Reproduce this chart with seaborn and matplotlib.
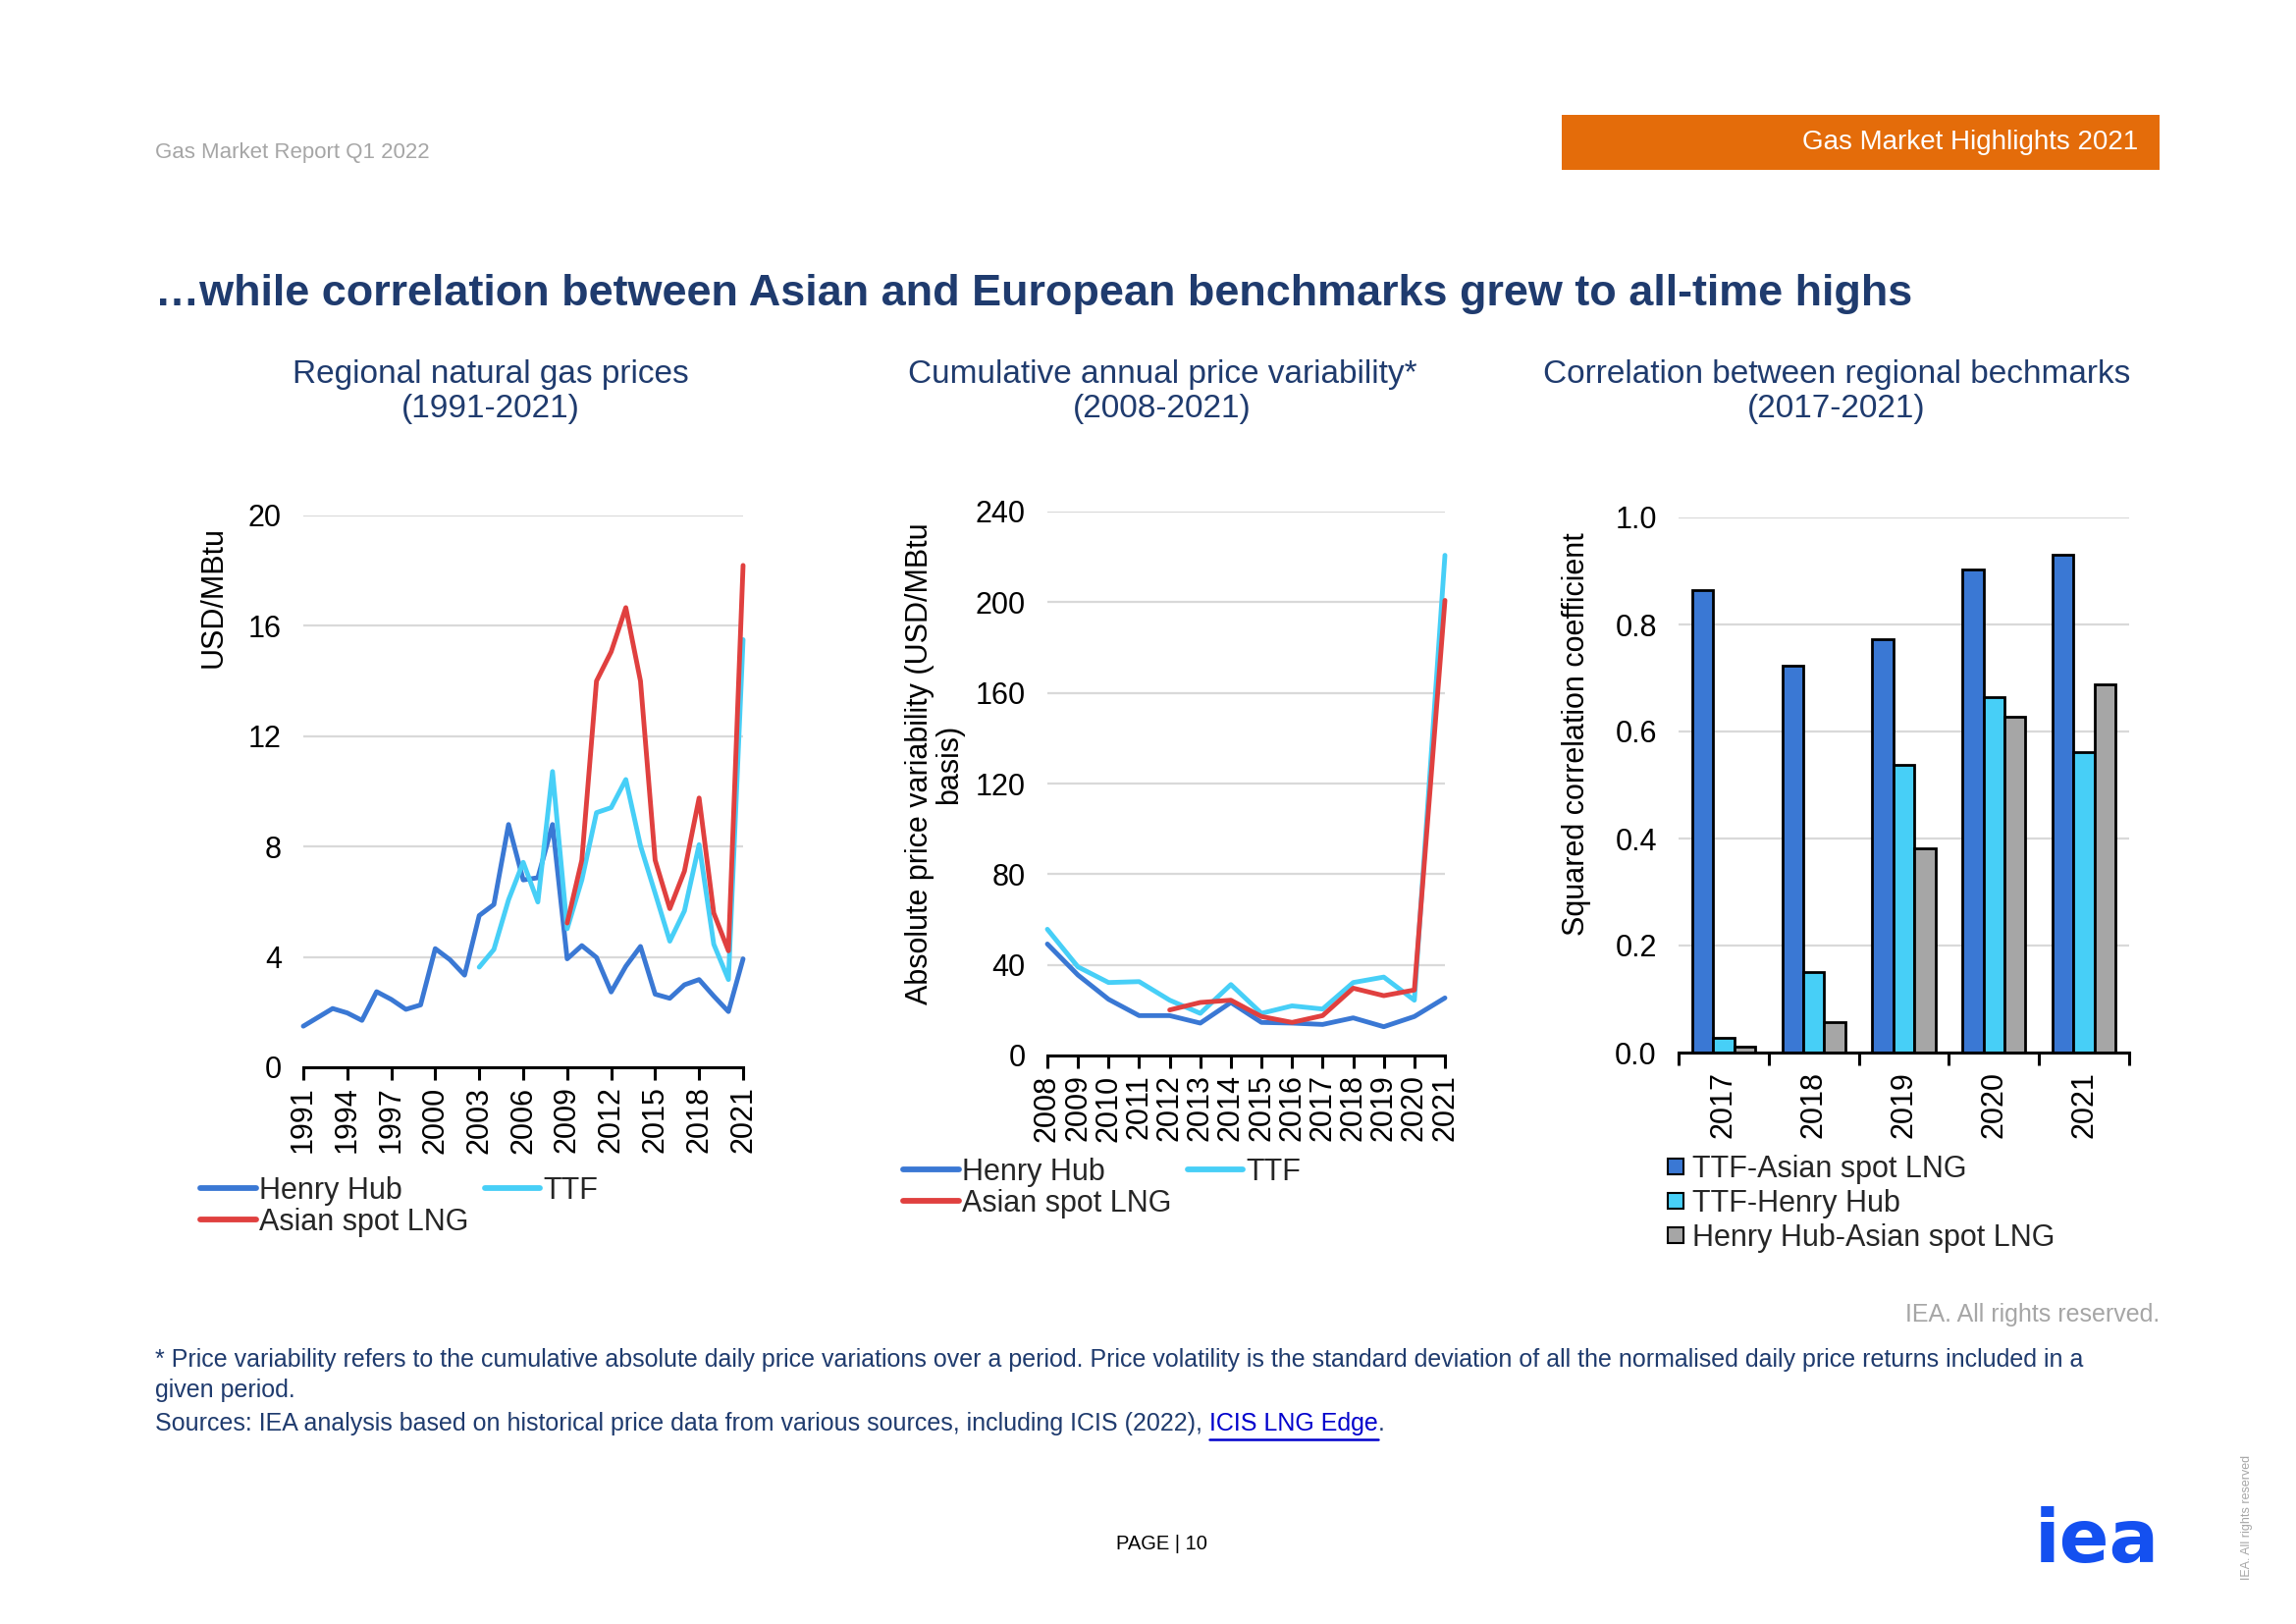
import numpy as np
import pandas as pd
import matplotlib
matplotlib.use("Agg")
import matplotlib.pyplot as plt
import seaborn as sns
from matplotlib.lines import Line2D
from matplotlib.patches import Rectangle

nan = np.nan

# ---------------- data ----------------
years1 = list(range(1991, 2022))
henry_hub_price = [1.49, 1.81, 2.13, 1.97, 1.70, 2.74, 2.46, 2.10, 2.26, 4.30,
                   3.90, 3.34, 5.50, 5.90, 8.80, 6.79, 6.87, 8.80, 3.93, 4.41,
                   3.98, 2.73, 3.66, 4.38, 2.65, 2.50, 2.99, 3.18, 2.58, 2.02, 3.93]
ttf_price = [nan] * 12 + [3.63, 4.27, 6.07, 7.43, 5.99, 10.72, 5.02, 6.79, 9.23,
                          9.41, 10.43, 8.03, 6.31, 4.57, 5.67, 8.07, 4.46, 3.18, 15.5]
lng_price = [nan] * 18 + [5.23, 7.51, 14.0, 15.06, 16.66, 14.0, 7.51, 5.75, 7.11,
                          9.76, 5.59, 4.22, 18.19]

years2 = list(range(2008, 2022))
henry_hub_var = [49.2, 35.5, 24.8, 17.6, 17.6, 14.3, 23.4, 14.6, 14.3, 13.7, 16.6, 12.7, 17.2, 25.4]
ttf_var = [55.7, 39.1, 32.2, 32.6, 24.4, 18.6, 31.3, 18.6, 21.9, 20.5, 32.2, 34.6, 24.4, 220.7]
lng_var = [nan] * 4 + [20.1, 23.4, 24.4, 17.2, 14.6, 17.6, 29.7, 26.4, 28.9, 200.8]

years3 = ["2017", "2018", "2019", "2020", "2021"]
corr_ttf_lng = [0.865, 0.723, 0.773, 0.902, 0.931]
corr_ttf_hh = [0.027, 0.150, 0.537, 0.665, 0.561]
corr_hh_lng = [0.011, 0.057, 0.381, 0.628, 0.688]

series_names = ["Henry Hub", "TTF", "Asian spot LNG"]
bar_names = ["TTF-Asian spot LNG", "TTF-Henry Hub", "Henry Hub-Asian spot LNG"]

# ---------------- style ----------------
C_HH = "#3A78D4"
C_TTF = "#47CFF7"
C_LNG = "#E0403F"
C_GRAY = "#A6A6A6"
NAVY = "#1F3B6E"
GRID = "#D9D9D9"

sns.set_theme(style="white")
plt.rcParams["font.family"] = ["Liberation Sans", "DejaVu Sans"]

W, H = 2339, 1654
fig = plt.figure(figsize=(W / 100, H / 100), dpi=100)


def rect(x0, y0, x1, y1):
    return [x0 / W, 1 - y1 / H, (x1 - x0) / W, (y1 - y0) / H]


def fx(x):
    return x / W


def fy(y):
    return 1 - y / H


def style_axis(ax):
    ax.grid(axis="y", color=GRID, linewidth=1.6)
    ax.grid(axis="x", visible=False)
    ax.set_axisbelow(True)
    for s in ["top", "right", "left"]:
        ax.spines[s].set_visible(False)
    ax.spines["bottom"].set_color("black")
    ax.spines["bottom"].set_linewidth(2.2)
    ax.spines["bottom"].set_zorder(5)
    ax.tick_params(axis="y", length=0, pad=16, labelsize=22, labelcolor="black")
    ax.tick_params(axis="x", which="both", direction="out", length=9, width=2.2,
                   color="black", labelsize=22, labelcolor="black", pad=5,
                   labelrotation=90, bottom=True)
    ax.set_xlabel("")


palette = {"Henry Hub": C_HH, "TTF": C_TTF, "Asian spot LNG": C_LNG}

# ---------------- chart 1 ----------------
df1 = pd.DataFrame({"year": years1 * 3,
                    "series": np.repeat(series_names, len(years1)),
                    "value": henry_hub_price + ttf_price + lng_price}).dropna()
ax1 = fig.add_axes(rect(309, 525, 757, 1087))
sns.lineplot(data=df1, x="year", y="value", hue="series", hue_order=series_names,
             palette=palette, linewidth=3.5, estimator=None, legend=False, ax=ax1)
for ln in ax1.lines:
    ln.set_clip_on(False)
    ln.set_solid_joinstyle("round")
ax1.set_xlim(1991, 2021)
ax1.set_ylim(0, 20)
ax1.set_yticks(range(0, 21, 4))
ax1.set_xticks(range(1991, 2022, 3))
style_axis(ax1)
ax1.set_ylabel("USD/MBtu", fontsize=22, va="center", color="black")
ax1.yaxis.set_label_coords(-0.203, 0.852)

# ---------------- chart 2 ----------------
df2 = pd.DataFrame({"year": years2 * 3,
                    "series": np.repeat(series_names, len(years2)),
                    "value": henry_hub_var + ttf_var + lng_var}).dropna()
ax2 = fig.add_axes(rect(1067, 521, 1472, 1075))
sns.lineplot(data=df2, x="year", y="value", hue="series", hue_order=series_names,
             palette=palette, linewidth=3.5, estimator=None, legend=False, ax=ax2)
for ln in ax2.lines:
    ln.set_clip_on(False)
    ln.set_solid_joinstyle("round")
ax2.set_xlim(2008, 2021)
ax2.set_ylim(0, 240)
ax2.set_yticks(range(0, 241, 40))
ax2.set_xticks(years2)
style_axis(ax2)
ax2.set_ylabel("Absolute price variability (USD/MBtu\nbasis)", fontsize=22,
               va="center", color="black", linespacing=1.0)
ax2.yaxis.set_label_coords(-0.284, 0.536)

# ---------------- chart 3 ----------------
df3 = pd.DataFrame({"year": years3 * 3,
                    "series": np.repeat(bar_names, len(years3)),
                    "value": corr_ttf_lng + corr_ttf_hh + corr_hh_lng})
ax3 = fig.add_axes(rect(1710, 527, 2169, 1072))
bar_pal = {bar_names[0]: C_HH, bar_names[1]: C_TTF, bar_names[2]: C_GRAY}
sns.barplot(data=df3, x="year", y="value", hue="series", hue_order=bar_names,
            palette=bar_pal, edgecolor="black", linewidth=2.0, width=0.7,
            saturation=1, legend=False, ax=ax3)
ax3.set_xlim(-0.5, 4.5)
ax3.set_ylim(0, 1.0)
ax3.set_yticks(np.arange(0, 1.01, 0.2))
ax3.set_yticklabels([f"{v:.1f}" for v in np.arange(0, 1.01, 0.2)])
style_axis(ax3)
ax3.set_xticks(np.arange(-0.5, 4.6, 1.0), minor=True)
ax3.tick_params(axis="x", which="major", length=0, pad=14)
ax3.set_ylabel("Squared correlation coefficient", fontsize=22, va="center", color="black")
ax3.yaxis.set_label_coords(-0.227, 0.596)

# ---------------- legends ----------------
lh = [Line2D([], [], color=palette[n], lw=4.2, solid_capstyle="round") for n in series_names]
order = [0, 2, 1]
leg_kw = dict(frameon=False, fontsize=22, ncol=2, handlelength=1.85, handletextpad=0.1,
              columnspacing=0.55, labelspacing=0.05, borderpad=0, borderaxespad=0,
              loc="upper left", bbox_transform=fig.transFigure)
leg1 = ax1.legend([lh[i] for i in order], [series_names[i] for i in order],
                  bbox_to_anchor=(fx(204), fy(1198)), **leg_kw)
leg2 = ax2.legend([lh[i] for i in order], [series_names[i] for i in order],
                  bbox_to_anchor=(fx(920), fy(1179)), **leg_kw)
bh = [Line2D([], [], marker="s", linestyle="", markersize=11, markerfacecolor=bar_pal[n],
             markeredgecolor="black", markeredgewidth=1.5) for n in bar_names]
leg3 = ax3.legend(bh, bar_names, frameon=False, fontsize=22, ncol=1, handlelength=0.6,
                  handletextpad=0.25, labelspacing=0.16, borderpad=0, borderaxespad=0,
                  loc="upper left", bbox_transform=fig.transFigure,
                  bbox_to_anchor=(fx(1698), fy(1176)))

# ---------------- page texts ----------------
fig.text(fx(158), fy(155), "Gas Market Report Q1 2022", fontsize=16, color="#A6A6A6",
         ha="left", va="center")
fig.patches.append(Rectangle((fx(1591), fy(173)), (2200 - 1591) / W, 56 / H,
                             transform=fig.transFigure, facecolor="#E46C0A",
                             edgecolor="none"))
fig.text(fx(2178), fy(145), "Gas Market Highlights 2021", fontsize=20, color="white",
         ha="right", va="center")
fig.text(fx(158), fy(300), "\u2026while correlation between Asian and European benchmarks grew to all-time highs",
         fontsize=32.4, fontweight="bold", color=NAVY, ha="left", va="center")

subs = [(500, "Regional natural gas prices\n(1991-2021)"),
        (1184, "Cumulative annual price variability*\n(2008-2021)"),
        (1871, "Correlation between regional bechmarks\n(2017-2021)")]
for x, s in subs:
    fig.text(fx(x), fy(399), s, fontsize=24, color=NAVY, ha="center", va="center",
             linespacing=1.15)

fig.text(fx(2200), fy(1339), "IEA. All rights reserved.", fontsize=18, color="#A6A6A6",
         ha="right", va="center")
fig.text(fx(158), fy(1385),
         "* Price variability refers to the cumulative absolute daily price variations over a period. "
         "Price volatility is the standard deviation of all the normalised daily price returns included in a",
         fontsize=18, color=NAVY, ha="left", va="center")
fig.text(fx(158), fy(1416), "given period.", fontsize=18, color=NAVY, ha="left", va="center")
src = fig.text(fx(158), fy(1450),
               "Sources: IEA analysis based on historical price data from various sources, including ICIS (2022), ",
               fontsize=18, color=NAVY, ha="left", va="center")
renderer = fig.canvas.get_renderer()
bb = src.get_window_extent(renderer)
link = fig.text(bb.x1 / W, fy(1450), "ICIS LNG Edge", fontsize=18, color="#0000CC",
                ha="left", va="center")
bb2 = link.get_window_extent(renderer)
fig.text(bb2.x1 / W, fy(1450), ".", fontsize=18, color=NAVY, ha="left", va="center")
fig.lines.append(Line2D([bb2.x0 / W, bb2.x1 / W], [fy(1466), fy(1466)],
                        transform=fig.transFigure, color="#0000CC", lw=1.8))

fig.text(fx(1183), fy(1573), "PAGE | 10", fontsize=14.5, color="black", ha="center", va="center")
fig.text(fx(2136), fy(1570), "iea", fontsize=54, fontweight="bold", color="#1450F0",
         family="DejaVu Sans", ha="center", va="center")
fig.text(fx(2289), fy(1545), "IEA. All rights reserved", fontsize=9, color="#A6A6A6",
         rotation=90, ha="center", va="center")

fig.savefig("out.png", dpi=100)
